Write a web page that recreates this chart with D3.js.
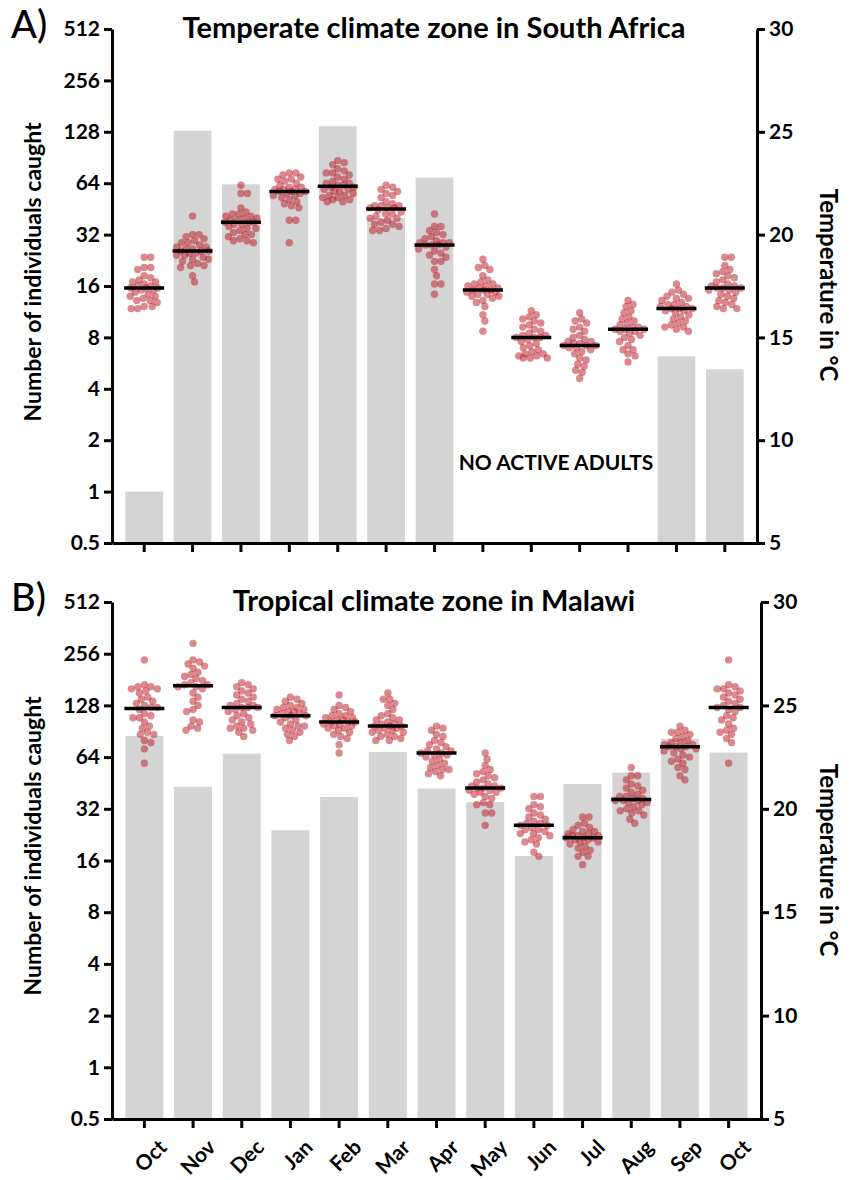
<!DOCTYPE html>
<html>
<head>
<meta charset="utf-8">
<script src="https://cdn.jsdelivr.net/npm/d3@7"></script>
<style>
  html, body { margin: 0; padding: 0; background: #fff; }
  svg { display: block; font-family: Lato, "Open Sans", sans-serif; }
  .axis text { font-family: Lato, sans-serif; font-weight: 700; font-size: 21px; fill: #000; }
  .axis path, .axis line { stroke: #000; stroke-width: 3; }
</style>
</head>
<body>
<svg id="chart" width="852" height="1180"></svg>
<script>
// Month sequence (Oct to Oct)
const months = ["Oct", "Nov", "Dec", "Jan", "Feb", "Mar", "Apr", "May", "Jun", "Jul", "Aug", "Sep", "Oct"];
const countTicks = [0.5, 1, 2, 4, 8, 16, 32, 64, 128, 256, 512];
const tempTicks = [5, 10, 15, 20, 25, 30];

// Monthly catches (0 = no active adults)
const caughtSouthAfrica = [1, 130, 63, 57, 138, 40, 69, 0, 0, 0, 0, 6.2, 5.2];
const caughtMalawi = [85, 43, 67, 24, 37.5, 68.5, 42, 35, 17, 44.6, 52, 82, 68];

// Daily temperatures (°C) per month, South Africa
const tempSouthAfrica = [
  [18.9, 18.9, 18.4, 18.4, 18.3, 18.0, 17.9, 17.8, 17.7, 17.7, 17.6, 17.5, 17.5, 17.4, 17.4, 17.4, 17.3, 17.3, 17.2, 17.1, 17.0, 17.0, 16.9, 16.8, 16.8, 16.7, 16.5, 16.5, 16.4, 16.4],
  [20.9, 20.0, 20.0, 19.9, 19.8, 19.7, 19.6, 19.6, 19.5, 19.4, 19.4, 19.3, 19.3, 19.2, 19.2, 19.2, 19.1, 19.1, 19.0, 19.0, 18.9, 18.8, 18.8, 18.7, 18.6, 18.5, 18.5, 18.4, 18.0, 17.7],
  [22.4, 22.0, 22.0, 21.3, 21.1, 21.0, 21.0, 20.9, 20.9, 20.8, 20.8, 20.7, 20.7, 20.6, 20.6, 20.6, 20.5, 20.5, 20.4, 20.3, 20.3, 20.2, 20.1, 20.0, 20.0, 19.9, 19.8, 19.7, 19.7, 19.6],
  [23.0, 23.0, 22.9, 22.8, 22.7, 22.7, 22.6, 22.5, 22.4, 22.3, 22.3, 22.2, 22.2, 22.2, 22.1, 22.1, 22.1, 22.0, 22.0, 21.9, 21.9, 21.8, 21.7, 21.6, 21.5, 21.4, 21.3, 20.7, 20.7, 19.6],
  [23.6, 23.5, 23.4, 23.2, 23.1, 23.0, 23.0, 22.9, 22.8, 22.7, 22.6, 22.5, 22.5, 22.4, 22.4, 22.3, 22.3, 22.2, 22.2, 22.1, 22.1, 22.0, 21.9, 21.9, 21.8, 21.8, 21.7, 21.7, 21.6, 21.6],
  [22.4, 22.3, 22.2, 22.1, 22.0, 21.9, 21.8, 21.6, 21.5, 21.4, 21.4, 21.4, 21.3, 21.3, 21.3, 21.2, 21.1, 21.0, 21.0, 20.9, 20.8, 20.8, 20.7, 20.6, 20.5, 20.5, 20.4, 20.3, 20.2, 20.2],
  [21.0, 20.4, 20.4, 20.2, 20.1, 20.0, 19.9, 19.8, 19.7, 19.6, 19.6, 19.6, 19.5, 19.5, 19.5, 19.4, 19.3, 19.2, 19.1, 19.0, 18.9, 18.7, 18.7, 18.3, 18.0, 17.6, 17.6, 17.1],
  [18.8, 18.5, 18.4, 18.3, 18.0, 17.8, 17.7, 17.6, 17.6, 17.5, 17.5, 17.4, 17.4, 17.3, 17.3, 17.3, 17.2, 17.2, 17.1, 17.1, 17.0, 17.0, 16.9, 16.8, 16.7, 16.5, 16.1, 15.8, 15.3],
  [16.3, 16.1, 16.0, 15.9, 15.8, 15.7, 15.6, 15.5, 15.4, 15.3, 15.2, 15.1, 15.1, 15.0, 15.0, 15.0, 14.9, 14.8, 14.7, 14.6, 14.5, 14.4, 14.3, 14.2, 14.2, 14.1, 14.1, 14.0, 14.0, 14.0],
  [16.2, 15.9, 15.8, 15.7, 15.5, 15.4, 15.3, 15.1, 15.0, 14.9, 14.8, 14.8, 14.7, 14.7, 14.6, 14.6, 14.6, 14.5, 14.5, 14.4, 14.3, 14.2, 14.0, 13.9, 13.7, 13.6, 13.4, 13.3, 13.0],
  [16.8, 16.6, 16.5, 16.3, 16.2, 16.0, 15.9, 15.8, 15.7, 15.6, 15.5, 15.5, 15.4, 15.4, 15.4, 15.3, 15.3, 15.2, 15.1, 15.0, 14.9, 14.8, 14.6, 14.4, 14.4, 14.2, 14.1, 13.8],
  [17.6, 17.3, 17.2, 17.1, 17.0, 16.9, 16.9, 16.8, 16.7, 16.6, 16.6, 16.5, 16.5, 16.4, 16.4, 16.4, 16.3, 16.3, 16.2, 16.1, 16.0, 15.9, 15.8, 15.7, 15.6, 15.5, 15.5, 15.4, 15.3],
  [18.9, 18.9, 18.5, 18.3, 18.2, 18.1, 18.0, 17.9, 17.8, 17.7, 17.6, 17.5, 17.5, 17.4, 17.4, 17.4, 17.3, 17.3, 17.2, 17.1, 17.0, 16.9, 16.8, 16.7, 16.6, 16.5, 16.4, 16.4]
];

// Daily temperatures (°C) per month, Malawi
const tempMalawi = [
  [27.2, 26.0, 25.9, 25.9, 25.8, 25.8, 25.7, 25.6, 25.4, 25.3, 25.2, 25.1, 25.0, 24.9, 24.9, 24.8, 24.6, 24.5, 24.4, 24.4, 24.2, 24.0, 23.9, 23.7, 23.6, 23.6, 23.3, 23.2, 22.9, 22.2],
  [28.0, 27.2, 27.1, 27.0, 26.9, 26.8, 26.6, 26.5, 26.4, 26.3, 26.2, 26.1, 26.0, 26.0, 25.9, 25.9, 25.8, 25.6, 25.4, 25.2, 25.0, 24.8, 24.7, 24.3, 24.2, 24.0, 23.9, 23.8],
  [26.1, 26.0, 25.9, 25.8, 25.7, 25.6, 25.5, 25.4, 25.3, 25.2, 25.1, 25.0, 25.0, 24.9, 24.9, 24.9, 24.8, 24.7, 24.6, 24.5, 24.4, 24.3, 24.2, 24.1, 24.0, 23.9, 23.9, 23.8, 23.7, 23.5],
  [25.4, 25.3, 25.2, 25.1, 25.0, 24.9, 24.9, 24.8, 24.8, 24.7, 24.7, 24.6, 24.6, 24.5, 24.5, 24.5, 24.4, 24.3, 24.2, 24.1, 24.0, 24.0, 23.9, 23.8, 23.7, 23.6, 23.5, 23.3],
  [25.5, 25.0, 24.9, 24.8, 24.7, 24.6, 24.5, 24.5, 24.4, 24.4, 24.3, 24.3, 24.2, 24.2, 24.2, 24.1, 24.1, 24.0, 24.0, 23.9, 23.9, 23.8, 23.7, 23.6, 23.5, 23.4, 23.1, 22.7],
  [25.6, 25.3, 25.3, 25.1, 25.0, 24.8, 24.6, 24.5, 24.4, 24.3, 24.3, 24.2, 24.1, 24.1, 24.0, 24.0, 24.0, 23.9, 23.9, 23.8, 23.8, 23.7, 23.7, 23.6, 23.5, 23.5, 23.4, 23.3, 23.3],
  [24.0, 23.9, 23.8, 23.6, 23.5, 23.3, 23.2, 23.1, 23.0, 22.9, 22.8, 22.8, 22.7, 22.7, 22.6, 22.6, 22.5, 22.4, 22.3, 22.2, 22.1, 22.0, 21.9, 21.9, 21.8, 21.7, 21.6],
  [22.7, 22.4, 22.1, 21.9, 21.8, 21.7, 21.6, 21.5, 21.4, 21.3, 21.2, 21.1, 21.1, 21.0, 21.0, 21.0, 20.9, 20.9, 20.8, 20.8, 20.7, 20.6, 20.5, 20.3, 20.2, 20.2, 19.8, 19.8, 19.2],
  [20.6, 20.6, 20.2, 20.1, 20.0, 19.8, 19.7, 19.6, 19.5, 19.4, 19.3, 19.3, 19.2, 19.2, 19.1, 19.0, 19.0, 18.9, 18.8, 18.8, 18.7, 18.6, 18.5, 18.4, 18.3, 17.9, 17.7],
  [19.6, 19.6, 19.3, 19.2, 19.1, 19.0, 18.9, 18.9, 18.8, 18.8, 18.7, 18.7, 18.7, 18.6, 18.6, 18.6, 18.5, 18.5, 18.4, 18.4, 18.3, 18.2, 18.1, 18.0, 17.9, 17.7, 17.7, 17.3],
  [22.0, 21.6, 21.6, 21.4, 21.2, 21.1, 21.0, 20.9, 20.8, 20.7, 20.6, 20.6, 20.5, 20.5, 20.4, 20.4, 20.4, 20.3, 20.3, 20.2, 20.1, 20.0, 19.9, 19.9, 19.8, 19.7, 19.5, 19.3],
  [24.0, 23.8, 23.7, 23.7, 23.6, 23.5, 23.4, 23.3, 23.2, 23.2, 23.1, 23.1, 23.0, 23.0, 23.0, 22.9, 22.9, 22.8, 22.7, 22.6, 22.5, 22.4, 22.3, 22.2, 22.0, 21.9, 21.6, 21.4],
  [27.2, 26.0, 25.9, 25.8, 25.8, 25.7, 25.6, 25.5, 25.4, 25.3, 25.2, 25.1, 25.0, 24.9, 24.9, 24.8, 24.7, 24.5, 24.4, 24.3, 24.1, 23.9, 23.8, 23.7, 23.6, 23.4, 23.2, 22.2]
];

const svg = d3.select("#chart");
const BAR = "#d4d4d4", DOT = "#b8141f";

// Place dots of one column (beeswarm); offsets are kept within ±maxDx,
// letting dots overlap where the column is crowded
function swarm(values, y, minDist, maxDx) {
  const placed = [];
  const sorted = values.slice().sort((a, b) => d3.descending(a, b));
  const candidates = [0];
  for (let s = 0.5; s <= maxDx; s += 0.5) candidates.push(s, -s);
  for (const v of sorted) {
    const py = y(v);
    let chosen = null, best = 0, bestDx = 0;
    for (const dx of candidates) {
      const nearest = placed.length
        ? d3.min(placed, p => Math.hypot(p.dx - dx, p.y - py))
        : Infinity;
      if (nearest >= minDist) { chosen = dx; break; }
      if (nearest > best) { best = nearest; bestDx = dx; }
    }
    placed.push({ v, y: py, dx: chosen === null ? bestDx : chosen });
  }
  return placed;
}

function drawPanel(cfg) {
  const g = svg.append("g");
  const x = d3.scaleBand()
    .domain(d3.range(months.length))
    .range([cfg.left, cfg.right])
    .paddingInner(0.22)
    .paddingOuter(0.275);
  const yCount = d3.scaleLog().base(2).domain([0.5, 512]).range([cfg.bottom, cfg.top]);
  const yTemp = d3.scaleLinear().domain([5, 30]).range([cfg.bottom, cfg.top]);

  // catches as bars
  g.append("g").selectAll("rect")
    .data(cfg.caught.map((v, i) => ({ v, i })).filter(d => d.v > 0))
    .join("rect")
    .attr("x", d => x(d.i))
    .attr("width", x.bandwidth())
    .attr("y", d => yCount(d.v))
    .attr("height", d => cfg.bottom - yCount(d.v))
    .attr("fill", BAR);

  // daily temperatures as dots
  cfg.temps.forEach((vals, i) => {
    const cx = x(i) + x.bandwidth() / 2;
    const pts = swarm(vals, yTemp, 6.4, 16);
    g.append("g").selectAll("circle")
      .data(pts)
      .join("circle")
      .attr("cx", d => cx + d.dx)
      .attr("cy", d => d.y)
      .attr("r", 3.7)
      .attr("fill", DOT)
      .attr("fill-opacity", 0.5);
  });

  // monthly median of temperature
  g.append("g").selectAll("line")
    .data(cfg.temps.map((vals, i) => ({ i, m: d3.median(vals) })))
    .join("line")
    .attr("x1", d => x(d.i) + x.bandwidth() / 2 - 20)
    .attr("x2", d => x(d.i) + x.bandwidth() / 2 + 20)
    .attr("y1", d => yTemp(d.m))
    .attr("y2", d => yTemp(d.m))
    .attr("stroke", "#000")
    .attr("stroke-width", 3.5);

  // axes
  g.append("g").attr("class", "axis")
    .attr("transform", `translate(${cfg.left},0)`)
    .call(d3.axisLeft(yCount).tickValues(countTicks).tickFormat(d => String(d)).tickSize(8).tickSizeOuter(0).tickPadding(4));
  g.append("g").attr("class", "axis")
    .attr("transform", `translate(${cfg.right},0)`)
    .call(d3.axisRight(yTemp).tickValues(tempTicks).tickSize(8).tickSizeOuter(0).tickPadding(4));
  const xa = g.append("g").attr("class", "axis")
    .attr("transform", `translate(0,${cfg.bottom})`)
    .call(d3.axisBottom(x).tickFormat(i => cfg.showMonths ? months[i] : "").tickSize(9).tickSizeOuter(0));
  xa.selectAll("text")
    .attr("text-anchor", "end")
    .attr("dy", "0.35em")
    .attr("transform", "translate(10,16) rotate(-45)");

  // axis titles
  g.append("text")
    .attr("transform", `translate(41,${cfg.leftTitleY}) rotate(-90)`)
    .attr("text-anchor", "middle")
    .style("font-size", "23px").style("font-weight", 700)
    .text("Number of individuals caught");
  g.append("text")
    .attr("transform", `translate(820,${cfg.rightTitleY}) rotate(90)`)
    .attr("text-anchor", "middle")
    .style("font-size", "24px").style("font-weight", 700)
    .text("Temperature in °C");

  // panel title and letter
  g.append("text")
    .attr("x", 434).attr("y", cfg.top + 9)
    .attr("text-anchor", "middle")
    .style("font-size", "29px").style("font-weight", 700)
    .text(cfg.title);
  g.append("text")
    .attr("x", 11).attr("y", cfg.top + 9)
    .style("font-size", "38px").style("font-weight", 500)
    .text(cfg.letter);

  return { x, yCount, yTemp, g };
}

const pA = drawPanel({
  left: 112, right: 757, top: 29, bottom: 543,
  caught: caughtSouthAfrica, temps: tempSouthAfrica,
  title: "Temperate climate zone in South Africa", letter: "A)",
  showMonths: false, leftTitleY: 272, rightTitleY: 285
});
pA.g.append("text")
  .attr("x", 556).attr("y", 470)
  .attr("text-anchor", "middle")
  .style("font-size", "21px").style("font-weight", 700)
  .text("NO ACTIVE ADULTS");

drawPanel({
  left: 112, right: 761, top: 602, bottom: 1119,
  caught: caughtMalawi, temps: tempMalawi,
  title: "Tropical climate zone in Malawi", letter: "B)",
  showMonths: true, leftTitleY: 846, rightTitleY: 860
});
</script>
</body>
</html>
